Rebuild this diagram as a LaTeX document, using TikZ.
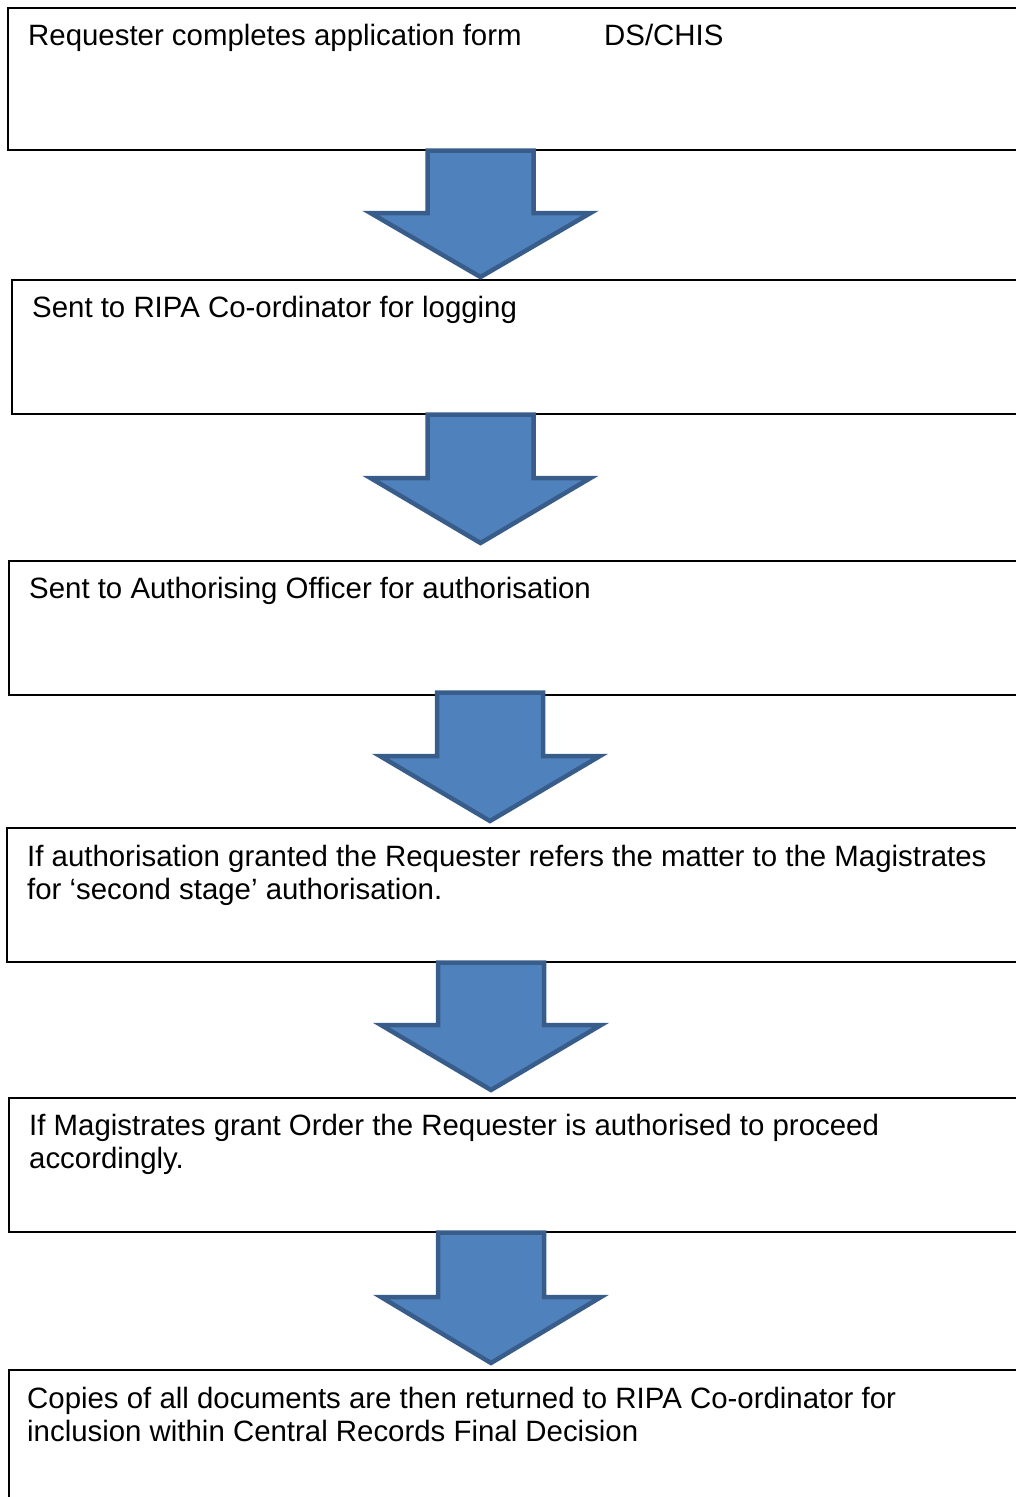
\documentclass[tikz,border=0pt]{standalone}
\usepackage{fontspec}
\setmainfont{Liberation Sans}
\definecolor{arrowfill}{HTML}{4F81BD}
\definecolor{arrowline}{HTML}{385D8A}
\newcommand\blkarrow[5]{% name, cx, top, shoulder, tip
  \draw[blockarrow] ($(#2-53,-#3)$) coordinate (#1) -- ($(#2+53,-#3)$) -- ($(#2+53,-#4)$) -- ($(#2+110,-#4)$)
    -- ($(#2,-#5)$) -- ($(#2-110,-#4)$) -- ($(#2-53,-#4)$) -- cycle;}
\usetikzlibrary{calc}
\begin{document}
\begin{tikzpicture}[x=1pt,y=1pt,
  box/.style={draw=black,line width=1.6pt,fill=none,inner sep=0,anchor=north west,minimum width=1100pt},
  txt/.style={inner sep=0,anchor=base west,align=left,font=\fontsize{29.4}{33}\selectfont},
  blockarrow/.style={fill=arrowfill,draw=arrowline,line width=4.5pt,line join=miter}]
\useasboundingbox (0,0) rectangle (1016,-1497);
\clip (0,0) rectangle (1016,-1497);
\node[box,minimum height=142pt,line width=2pt] (b1) at (7,-7) {};
\node[box,minimum height=134pt] (b2) at (11,-279) {};
\node[box,minimum height=134pt] (b3) at (8,-560) {};
\node[box,minimum height=134pt] (b4) at (6,-827) {};
\node[box,minimum height=134pt] (b5) at (8,-1097) {};
\node[box,minimum height=200pt] (b6) at (8,-1369) {};
\node[txt] (t1) at (28,-45) {Requester completes application form};
\node[txt] (t1b) at (604,-45) {DS/CHIS};
\node[txt] (t2) at (32,-317) {Sent to RIPA Co-ordinator for logging};
\node[txt] (t3) at (29,-598) {Sent to Authorising Officer for authorisation};
\node[txt] (t4) at (27,-899) {If authorisation granted the Requester refers the matter to the Magistrates\\for ‘second stage’ authorisation.};
\node[txt] (t5) at (29,-1168) {If Magistrates grant Order the Requester is authorised to proceed\\accordingly.};
\node[txt] (t6) at (27,-1441) {Copies of all documents are then returned to RIPA Co-ordinator for\\inclusion within Central Records Final Decision};
\blkarrow{a1}{480.5}{150.5}{213}{277}
\blkarrow{a2}{480.5}{414.5}{478}{543}
\blkarrow{a3}{490}{692.5}{756}{821}
\blkarrow{a4}{491}{962.5}{1025}{1090}
\blkarrow{a5}{491}{1232.5}{1297}{1363}
\end{tikzpicture}
\end{document}
